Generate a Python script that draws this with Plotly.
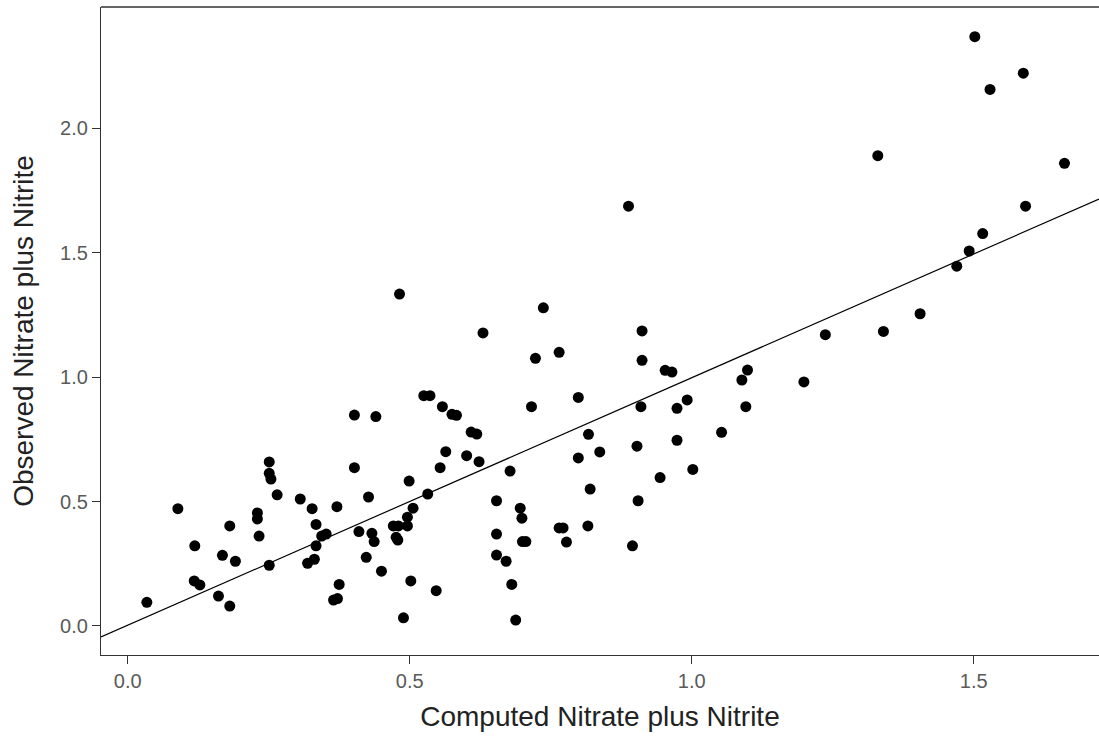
import plotly.graph_objects as go

# Computed (x) vs observed (y) nitrate plus nitrite
computed = [0.034, 0.089, 0.119, 0.118, 0.128, 0.161, 0.181, 0.168, 0.191, 0.181,
            0.230, 0.230, 0.233, 0.251, 0.251, 0.251, 0.254, 0.265, 0.306, 0.327,
            0.334, 0.344, 0.352, 0.334, 0.319, 0.331, 0.371, 0.375, 0.365, 0.372,
            0.402, 0.440, 0.558, 0.575, 0.583, 0.609, 0.619, 0.564, 0.601, 0.623,
            0.554, 0.402, 0.678, 0.499, 0.427, 0.532, 0.506, 0.496, 0.471, 0.480,
            0.496, 0.410, 0.433, 0.437, 0.476, 0.479, 0.423, 0.450, 0.502, 0.547,
            0.489, 0.654, 0.654, 0.654, 0.671, 0.696, 0.699, 0.700, 0.706, 0.681,
            0.688, 0.716, 0.765, 0.772, 0.778, 0.816, 0.820, 0.799, 0.837, 0.817,
            0.799, 0.910, 0.974, 0.992, 1.096, 0.903, 0.974, 1.053, 0.944, 1.002,
            0.905, 0.895, 0.888, 0.912, 0.912, 0.953, 0.965, 1.099, 1.089, 0.482,
            0.630, 0.737, 0.723, 0.765, 0.525, 0.536, 1.199, 1.237, 1.340, 1.405,
            1.502, 1.588, 1.529, 1.330, 1.661, 1.592, 1.516, 1.492, 1.470]
observed = [0.095, 0.471, 0.322, 0.181, 0.165, 0.120, 0.080, 0.284, 0.260, 0.402,
            0.454, 0.430, 0.361, 0.244, 0.659, 0.613, 0.590, 0.527, 0.510, 0.471,
            0.408, 0.361, 0.369, 0.322, 0.252, 0.268, 0.479, 0.167, 0.104, 0.110,
            0.847, 0.841, 0.881, 0.850, 0.846, 0.779, 0.771, 0.700, 0.684, 0.660,
            0.636, 0.636, 0.622, 0.582, 0.518, 0.530, 0.473, 0.437, 0.402, 0.402,
            0.402, 0.379, 0.372, 0.339, 0.356, 0.345, 0.276, 0.220, 0.181, 0.142,
            0.033, 0.503, 0.369, 0.285, 0.260, 0.473, 0.433, 0.339, 0.339, 0.167,
            0.024, 0.881, 0.394, 0.394, 0.337, 0.402, 0.550, 0.675, 0.699, 0.770,
            0.918, 0.881, 0.874, 0.908, 0.881, 0.722, 0.746, 0.778, 0.596, 0.629,
            0.503, 0.322, 1.686, 1.185, 1.067, 1.027, 1.020, 1.028, 0.988, 1.333,
            1.177, 1.278, 1.075, 1.099, 0.925, 0.925, 0.980, 1.170, 1.183, 1.254,
            2.367, 2.220, 2.155, 1.889, 1.858, 1.686, 1.576, 1.506, 1.445]

line_intercept = 0.003
line_slope = 0.994

x_ticks = [0.0, 0.5, 1.0, 1.5]
x_tick_labels = ["0.0", "0.5", "1.0", "1.5"]
y_ticks = [0.0, 0.5, 1.0, 1.5, 2.0]
y_tick_labels = ["0.0", "0.5", "1.0", "1.5", "2.0"]

x_range = [-0.0473, 1.7222]
y_range = [-0.1165, 2.486]

FONT = "Liberation Sans, Arial, sans-serif"

fig = go.Figure()
fig.add_trace(go.Scatter(
    x=x_range,
    y=[line_intercept + line_slope * v for v in x_range],
    mode="lines", line=dict(color="black", width=1.2),
    showlegend=False, hoverinfo="skip"))
fig.add_trace(go.Scatter(
    x=computed, y=observed, mode="markers",
    marker=dict(color="black", size=11, line=dict(width=0)),
    showlegend=False))

axis_common = dict(
    showgrid=False, zeroline=False, showline=True, linecolor="#333333",
    linewidth=1.3, ticks="outside", ticklen=8, tickwidth=1.1, tickcolor="#333333",
    tickfont=dict(family=FONT, size=20, color="#5a5a5a"),
)
fig.update_xaxes(range=x_range, tickvals=x_ticks, ticktext=x_tick_labels,
                 title=dict(text="Computed Nitrate plus Nitrite",
                            font=dict(family=FONT, size=28, color="#222222"),
                            standoff=15),
                 **axis_common)
fig.update_yaxes(range=y_range, tickvals=y_ticks, ticktext=y_tick_labels,
                 title=dict(text="Observed Nitrate plus Nitrite",
                            font=dict(family=FONT, size=28, color="#222222"),
                            standoff=18),
                 **axis_common)
fig.add_shape(type="line", xref="paper", yref="paper", x0=0, x1=1, y0=1, y1=1,
              line=dict(color="#333333", width=1.3))
fig.update_layout(
    width=1099, height=745,
    margin=dict(l=101, r=0, t=7, b=90, autoexpand=False),
    plot_bgcolor="white", paper_bgcolor="white",
)
fig.write_html(
    "out.html",
    config={"displayModeBar": False},
    post_script="document.body.style.margin='0';document.body.style.overflow='hidden';",
)
